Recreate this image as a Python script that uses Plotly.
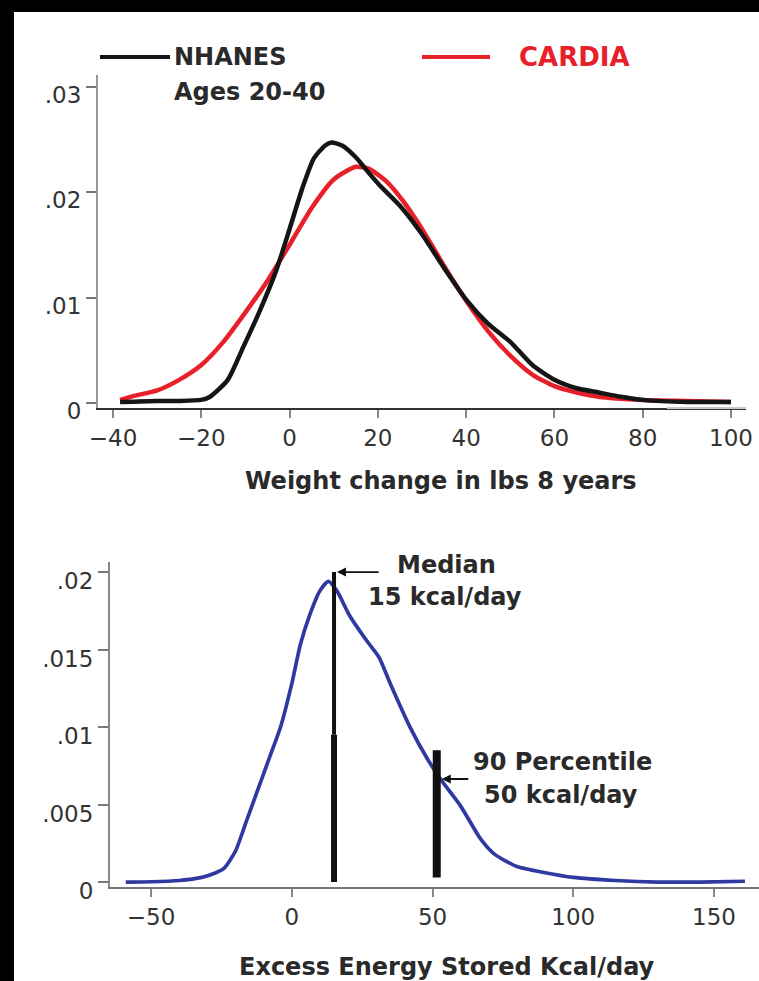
import plotly.graph_objects as go

W, H = 759, 981

# ---------------- data ----------------
nhanes_x = [-38.4, -30, -25, -20, -18, -14, -10.5, -7, -3, 0, 3, 5.5, 8, 9.5, 12, 15, 18, 20.5,
            25, 30, 35, 40, 45, 50, 55, 60, 65, 70, 75, 80, 90, 100]
nhanes_y = [0.0001, 0.0002, 0.0002, 0.0003, 0.0006, 0.0022, 0.0053, 0.0085, 0.0126, 0.0165, 0.0205,
            0.0232, 0.0244, 0.0247, 0.0244, 0.0233, 0.0218, 0.0206, 0.0187, 0.0160, 0.0128, 0.0098,
            0.0075, 0.0058, 0.0036, 0.0022, 0.0014, 0.0010, 0.0006, 0.0003, 0.0001, 0.0001]

cardia_x = [-38.4, -35, -30, -25, -20, -15, -10, -5, 0, 5, 10, 15, 18, 22, 26, 30, 35, 40, 45,
            50, 55, 60, 65, 70, 80, 90, 100]
cardia_y = [0.0003, 0.0007, 0.0012, 0.0022, 0.0036, 0.0058, 0.0086, 0.0116, 0.0150, 0.0185, 0.0212,
            0.0224, 0.0222, 0.0210, 0.0190, 0.0165, 0.0130, 0.0097, 0.0068, 0.0045, 0.0027, 0.0016,
            0.0010, 0.0006, 0.0003, 0.0002, 0.0001]

energy_x = [-59, -50, -40, -32, -27, -24, -20, -16, -12, -8, -4, 0, 3, 6.5, 10, 13, 16, 20.5, 26.5,
            31, 35, 42, 48, 53, 60, 67, 72, 80, 90, 100, 115, 130, 145, 161]
energy_y = [0.0, 0.00002, 0.0001, 0.0003, 0.0006, 0.0009, 0.0020, 0.0040, 0.0060, 0.0080, 0.0100,
            0.0128, 0.0153, 0.0173, 0.0188, 0.0194, 0.0188, 0.0172, 0.0156, 0.0145, 0.0128, 0.0100,
            0.0080, 0.0066, 0.0049, 0.0028, 0.0018, 0.0010, 0.0006, 0.0003, 0.0001, 0.0, 0.0, 0.00005]

median_x = 15
median_top = 0.0200
median_split = 0.0095
p90_x = 51.5
p90_top = 0.0085
p90_bottom = 0.0003
p90_arrow_y = 0.00665

top_xticks = [-40, -20, 0, 20, 40, 60, 80, 100]
top_yticks = [0, 0.01, 0.02, 0.03]
top_yticktext = ["0", ".01", ".02", ".03"]
bot_xticks = [-50, 0, 50, 100, 150]
bot_yticks = [0, 0.005, 0.01, 0.015, 0.02]
bot_yticktext = ["0", ".005", ".01", ".015", ".02"]

# ---------------- helpers ----------------
def px(x):
    return x / W

def py(y):
    return 1 - y / H

FONT = "DejaVu Sans"
TXT = "#2a2a2a"

fig = go.Figure()

fig.add_trace(go.Scatter(x=cardia_x, y=cardia_y, mode="lines", xaxis="x", yaxis="y",
                         line=dict(color="#e8202a", width=4.5, shape="spline", smoothing=0.6),
                         showlegend=False, hoverinfo="skip"))
fig.add_trace(go.Scatter(x=nhanes_x, y=nhanes_y, mode="lines", xaxis="x", yaxis="y",
                         line=dict(color="#151515", width=4.5, shape="spline", smoothing=0.6),
                         showlegend=False, hoverinfo="skip"))

fig.add_trace(go.Scatter(x=energy_x, y=energy_y, mode="lines", xaxis="x2", yaxis="y2",
                         line=dict(color="#2e3aa0", width=3.7, shape="spline", smoothing=0.6),
                         showlegend=False, hoverinfo="skip"))
# median bar
fig.add_trace(go.Scatter(x=[median_x, median_x], y=[0, median_split], mode="lines",
                         xaxis="x2", yaxis="y2", line=dict(color="#111", width=6),
                         showlegend=False, hoverinfo="skip"))
fig.add_trace(go.Scatter(x=[median_x, median_x], y=[median_split, median_top], mode="lines",
                         xaxis="x2", yaxis="y2", line=dict(color="#111", width=4),
                         showlegend=False, hoverinfo="skip"))
# 90 percentile bar
fig.add_trace(go.Scatter(x=[p90_x, p90_x], y=[p90_bottom, p90_top], mode="lines",
                         xaxis="x2", yaxis="y2", line=dict(color="#111", width=8),
                         showlegend=False, hoverinfo="skip"))

axis_common = dict(showgrid=False, zeroline=False, ticks="outside", showline=True,
                   automargin=False,
                   tickfont=dict(family=FONT, size=23, color="#333"))

fig.update_layout(
    width=W, height=H,
    margin=dict(l=0, r=0, t=0, b=0, pad=0, autoexpand=False),
    paper_bgcolor="black",
    plot_bgcolor="white",
    xaxis=dict(domain=[px(98), px(746)], range=[-43.4, 103.4], tickvals=top_xticks,
               anchor="y", ticklen=8, tickcolor="#888", tickwidth=2,
               linecolor="#333", linewidth=2, **axis_common),
    yaxis=dict(domain=[py(408), py(75)], range=[-0.00047, 0.0311], tickvals=top_yticks,
               ticktext=top_yticktext, anchor="x", ticklen=10, tickcolor="#777", tickwidth=2,
               linecolor="#999", linewidth=2, ticklabelshift=8, **axis_common),
    xaxis2=dict(domain=[px(110), 1.0], range=[-64.6, 166], tickvals=bot_xticks,
                anchor="y2", ticklen=8, tickcolor="#888", tickwidth=2,
                linecolor="#777", linewidth=2, **axis_common),
    yaxis2=dict(domain=[py(887), py(562)], range=[-0.00032, 0.02065], tickvals=bot_yticks,
                ticktext=bot_yticktext, anchor="x2", ticklen=10, tickcolor="#777", tickwidth=2,
                linecolor="#888", linewidth=2, ticklabelshift=9, **axis_common),
)

shapes = [
    # white panel over black frame
    dict(type="rect", xref="paper", yref="paper", x0=px(14), x1=1.0, y0=0, y1=py(12),
         fillcolor="white", line=dict(width=0), layer="below"),
    # grey tail of top x axis
    dict(type="line", xref="x", yref="y domain", x0=85.5, x1=103.4, y0=0, y1=0,
         line=dict(color="#c8c8c8", width=2)),
    # legend lines
    dict(type="line", xref="paper", yref="paper", x0=px(100), x1=px(170), y0=py(57), y1=py(57),
         line=dict(color="#151515", width=4)),
    dict(type="line", xref="paper", yref="paper", x0=px(422), x1=px(490), y0=py(57), y1=py(57),
         line=dict(color="#e8202a", width=4)),
]
fig.update_layout(shapes=shapes)

def label(text, x, y, size=24, color=TXT, xanchor="center"):
    return dict(text=text, x=px(x), y=py(y), xref="paper", yref="paper", showarrow=False,
                xanchor=xanchor, yanchor="middle",
                font=dict(family=FONT, size=size, color=color))

annotations = [
    label("<b>NHANES</b>", 172, 57, xanchor="left"),
    label("<b>Ages 20-40</b>", 172, 92, xanchor="left"),
    label("<b>CARDIA</b>", 517, 57, size=26, color="#e8202a", xanchor="left"),
    label("<b>Weight change in lbs 8 years</b>", 441, 481),
    label("<b>Excess Energy Stored Kcal/day</b>", 447, 967),
    label("<b>Median</b>", 446, 565),
    label("<b>15 kcal/day</b>", 445, 597),
    label("<b>90 Percentile</b>", 562, 762),
    label("<b>50 kcal/day</b>", 561, 795),
    # arrows
    dict(x=median_x, y=median_top, xref="x2", yref="y2", text="", showarrow=True,
         ax=46, ay=0, arrowhead=2, arrowsize=1, arrowwidth=1.8, arrowcolor="#111", standoff=3),
    dict(x=p90_x, y=p90_arrow_y, xref="x2", yref="y2", text="", showarrow=True,
         ax=33, ay=0, arrowhead=2, arrowsize=1, arrowwidth=1.8, arrowcolor="#111", standoff=5),
]
fig.update_layout(annotations=annotations)

fig.write_html("out.html", config={"displayModeBar": False},
               post_script="document.body.style.margin='0';document.body.style.overflow='hidden';")
